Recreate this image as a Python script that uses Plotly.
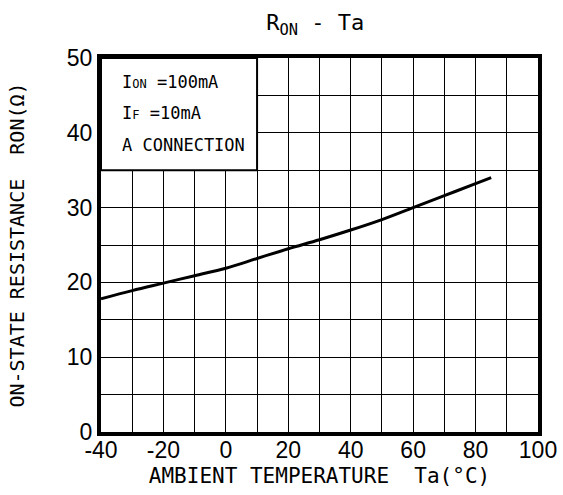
import plotly.graph_objects as go

# Data
ta = [-40, -30, -20, -10, 0, 10, 20, 30, 40, 50, 60, 70, 80, 85]
ron = [17.8, 18.9, 19.9, 20.9, 21.9, 23.2, 24.5, 25.7, 27.0, 28.4, 30.0, 31.6, 33.2, 34.0]

x_grid = [-40, -30, -20, -10, 0, 10, 20, 30, 40, 50, 60, 70, 80, 90, 100]
x_labels = ["-40", "", "-20", "", "0", "", "20", "", "40", "", "60", "", "80", "", "100"]
y_grid = [0, 5, 10, 15, 20, 25, 30, 35, 40, 45, 50]
y_labels = ["0", "", "10", "", "20", "", "30", "", "40", "", "50"]

cond_lines = ["I<span style=\"font-size:12px\">ON</span> =100mA",
              "I<span style=\"font-size:12px\">F</span> =10mA",
              "A CONNECTION"]

LBL = "DejaVu Sans Mono, monospace"
NUM = "Liberation Sans, Arial, sans-serif"

fig = go.Figure()
fig.add_trace(go.Scatter(x=ta, y=ron, mode="lines",
                         line=dict(color="black", width=3, shape="spline"),
                         showlegend=False, hoverinfo="skip"))

fig.update_layout(
    width=563, height=495,
    margin=dict(l=101, r=25, t=58, b=63, autoexpand=False),
    paper_bgcolor="white", plot_bgcolor="white",
    title=dict(text="R<sub>ON</sub> - Ta", x=0.56, xanchor="center", y=0.955, yanchor="middle",
               font=dict(family=LBL, size=22, color="black")),
    xaxis=dict(range=[-40, 100], tickvals=x_grid, ticktext=x_labels,
               showgrid=True, gridcolor="black", gridwidth=1.3,
               showline=True, linecolor="black", linewidth=4, mirror=True,
               ticks="", zeroline=False, automargin=False, ticklabelstandoff=-6,
               tickfont=dict(family=NUM, size=23, color="black"),
               title=dict(text="AMBIENT TEMPERATURE  Ta(°C)", standoff=8,
                          font=dict(family=LBL, size=21, color="black"))),
    yaxis=dict(range=[0, 50], tickvals=y_grid, ticktext=y_labels,
               showgrid=True, gridcolor="black", gridwidth=1.3,
               showline=True, linecolor="black", linewidth=4, mirror=True,
               ticks="", zeroline=False, automargin=False,
               tickfont=dict(family=NUM, size=23, color="black"),
               title=dict(text="ON-STATE RESISTANCE  RON(Ω)", standoff=38,
                          font=dict(family=LBL, size=20, color="black"))),
)

fig.add_shape(type="rect", x0=-40, x1=10, y0=35, y1=50, xref="x", yref="y",
              fillcolor="white", line=dict(color="black", width=2), layer="above")

for i, t in enumerate(cond_lines):
    fig.add_annotation(x=-34, y=46.8 - i * 4.2, xref="x", yref="y", text=t,
                       showarrow=False, xanchor="left", yanchor="middle",
                       font=dict(family=LBL, size=17, color="black"))

fig.write_html("out.html")
